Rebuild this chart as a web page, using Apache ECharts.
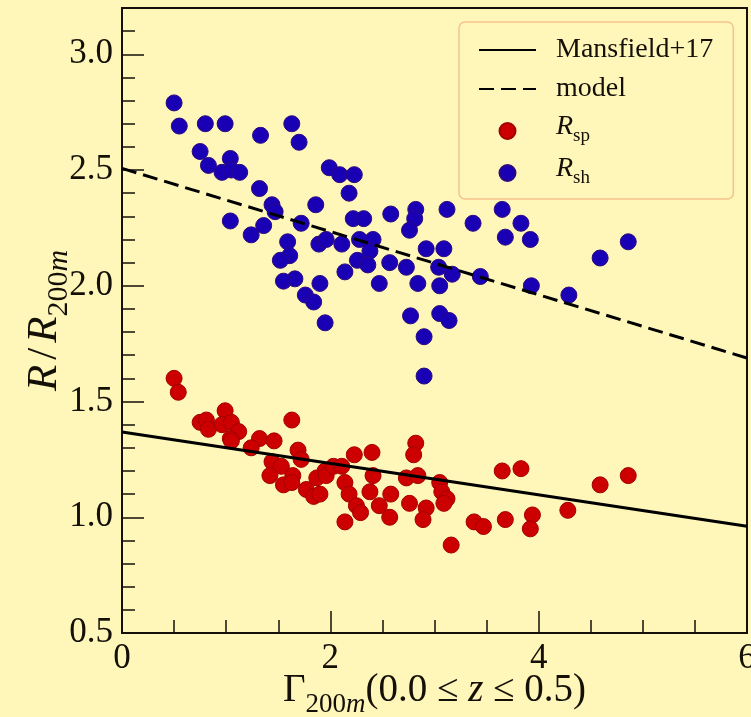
<!DOCTYPE html>
<html>
<head>
<meta charset="utf-8">
<script src="https://cdn.jsdelivr.net/npm/echarts@6/dist/echarts.min.js"></script>
<style>
  html, body { margin: 0; padding: 0; background: #fff6ba; }
  #chart { width: 751px; height: 717px; }
</style>
</head>
<body>
<div id="chart"></div>
<script>
// Axis ranges and labelled ticks
const gammaRange = [0, 6];
const radiusRange = [0.5, 3.2];
const gammaTickStep = 2;
const radiusTickStep = 0.5;
const radiusMinorStep = 0.1;

// Splashback radius R_sp / R_200m against accretion rate
const rspPoints = [
  [0.50, 1.60], [0.54, 1.54], [0.99, 1.46], [1.63, 1.42], [0.75, 1.41],
  [0.81, 1.42], [0.83, 1.38], [0.96, 1.40], [1.05, 1.41], [1.12, 1.37],
  [1.04, 1.34], [1.05, 1.33], [1.32, 1.34], [1.24, 1.30], [1.46, 1.33],
  [1.69, 1.29], [1.72, 1.25], [1.44, 1.24], [1.53, 1.22], [1.42, 1.18],
  [1.64, 1.18], [1.55, 1.14], [1.63, 1.15], [1.77, 1.12], [1.84, 1.09],
  [1.90, 1.10], [1.87, 1.17], [1.95, 1.20], [1.96, 1.18], [2.03, 1.22],
  [2.23, 1.27], [2.40, 1.28], [2.82, 1.32], [2.80, 1.27], [2.11, 1.22],
  [2.14, 1.15], [2.18, 1.10], [2.25, 1.05], [2.29, 1.02], [2.14, 0.98],
  [2.38, 1.11], [2.41, 1.18], [2.47, 1.05], [2.58, 1.10], [2.57, 1.00],
  [2.73, 1.17], [2.84, 1.18], [2.76, 1.06], [2.92, 1.04], [2.89, 0.99],
  [3.05, 1.15], [3.07, 1.11], [3.12, 1.08], [3.09, 1.06], [3.16, 0.88],
  [3.38, 0.98], [3.47, 0.96], [3.65, 1.20], [3.83, 1.21], [3.68, 0.99],
  [3.94, 1.01], [3.92, 0.95], [4.28, 1.03], [4.59, 1.14], [4.86, 1.18]
];

// Shock radius R_sh / R_200m against accretion rate
const rshPoints = [
  [0.50, 2.79], [0.55, 2.69], [0.80, 2.70], [0.99, 2.70], [1.63, 2.70],
  [1.33, 2.65], [1.70, 2.62], [0.75, 2.58], [0.83, 2.52], [1.04, 2.55],
  [0.96, 2.49], [1.05, 2.50], [1.13, 2.49], [1.32, 2.42], [1.44, 2.35],
  [1.47, 2.32], [1.72, 2.27], [1.04, 2.28], [1.36, 2.26], [1.24, 2.22],
  [1.59, 2.19], [1.61, 2.13], [1.52, 2.11], [1.66, 2.03], [1.55, 2.02],
  [1.76, 1.96], [1.99, 2.51], [2.09, 2.48], [2.23, 2.48], [2.18, 2.40],
  [1.86, 2.35], [2.22, 2.29], [2.32, 2.29], [2.58, 2.31], [2.82, 2.33],
  [2.81, 2.29], [2.76, 2.24], [3.12, 2.33], [3.37, 2.27], [1.89, 2.18],
  [1.96, 2.20], [2.11, 2.18], [2.28, 2.20], [2.41, 2.20], [2.38, 2.15],
  [2.26, 2.11], [2.36, 2.09], [2.57, 2.10], [2.14, 2.06], [2.73, 2.08],
  [2.92, 2.16], [3.09, 2.16], [3.04, 2.08], [3.17, 2.05], [2.47, 2.01],
  [2.84, 2.01], [3.05, 2.00], [1.90, 2.01], [1.84, 1.93], [1.95, 1.84],
  [2.77, 1.87], [3.05, 1.88], [3.14, 1.85], [2.90, 1.78], [2.90, 1.61],
  [3.44, 2.04], [3.65, 2.33], [3.83, 2.27], [3.68, 2.21], [3.92, 2.20],
  [4.86, 2.19], [4.59, 2.12], [3.93, 2.00], [4.29, 1.96]
];

// Fitted relations
const mansfieldLine = [[0, 1.368], [6, 0.961]];
const modelLine = [[0, 2.507], [6, 1.688]];

const serif = 'Liberation Serif';
const ink = '#141008';

const chart = echarts.init(document.getElementById('chart'), null, { renderer: 'canvas' });

const subRich = {
  n:  { fontFamily: serif, fontSize: 28, color: ink, verticalAlign: 'bottom', padding: [0, 0, 5, 0] },
  ni: { fontFamily: serif, fontSize: 28, color: ink, fontStyle: 'italic', verticalAlign: 'bottom', padding: [0, 0, 5, 0] },
  s:  { fontFamily: serif, fontSize: 19, color: ink, verticalAlign: 'bottom' }
};

function titleRich(size, subSize, drop, slashPad) {
  return {
    g:  { fontFamily: serif, fontSize: size, color: ink, verticalAlign: 'bottom', padding: [0, 0, drop, 0] },
    sl: { fontFamily: serif, fontSize: size, color: ink, verticalAlign: 'bottom', padding: [0, slashPad, drop, slashPad] },
    gi: { fontFamily: serif, fontSize: size, color: ink, fontStyle: 'italic', verticalAlign: 'bottom', padding: [0, 0, drop, 0] },
    s:  { fontFamily: serif, fontSize: subSize, color: ink, verticalAlign: 'bottom' },
    si: { fontFamily: serif, fontSize: subSize, color: ink, fontStyle: 'italic', verticalAlign: 'bottom' }
  };
}

const option = {
  backgroundColor: '#fff6ba',
  animation: false,
  grid: {
    left: 122, top: 8, width: 625, height: 625,
    outerBoundsMode: 'none',
    containLabel: false,
    show: true, borderColor: ink, borderWidth: 2, backgroundColor: 'transparent'
  },
  legend: {
    orient: 'vertical',
    left: 459, top: 22,
    padding: [13, 20, 11, 19],
    itemWidth: 57, itemHeight: 16,
    itemGap: 9,
    backgroundColor: '#fff6ba',
    borderColor: '#f5c38c', borderWidth: 1.5, borderRadius: 6,
    textStyle: { fontFamily: serif, fontSize: 28, color: ink, lineHeight: 30, padding: [0, 0, 0, 15], rich: subRich },
    data: [
      { name: 'Mansfield+17', itemStyle: { opacity: 0 } },
      { name: 'model', itemStyle: { opacity: 0 } },
      { name: 'R_sp', icon: 'circle' },
      { name: 'R_sh', icon: 'circle' }
    ],
    formatter: function (name) {
      if (name === 'R_sp') return '{ni|R}{s|sp}';
      if (name === 'R_sh') return '{ni|R}{s|sh}';
      return name;
    }
  },
  xAxis: {
    type: 'value',
    min: gammaRange[0], max: gammaRange[1], interval: gammaTickStep,
    name: '{g|Γ}{s|200}{si|m}{g|(0.0 ≤ }{gi|z}{g| ≤ 0.5)}',
    nameLocation: 'middle', nameGap: 38, nameMoveOverlap: false,
    nameTextStyle: { rich: titleRich(39, 27, 8, 0) },
    axisLine: { lineStyle: { color: ink, width: 2 } },
    axisTick: { inside: true, length: 22, lineStyle: { color: ink, width: 1.5 } },
    minorTick: { show: true, splitNumber: 4, length: 13, lineStyle: { color: ink, width: 1.5 } },
    axisLabel: { fontFamily: serif, fontSize: 35, color: ink, margin: 8 },
    splitLine: { show: false },
    minorSplitLine: { show: false }
  },
  yAxis: [
    {
      type: 'value',
      min: radiusRange[0], max: radiusRange[1], interval: radiusTickStep,
      name: '{gi|R}{sl|/}{gi|R}{s|200}{si|m}',
      nameLocation: 'middle', nameGap: 48, nameRotate: 90, nameMoveOverlap: false,
      nameTextStyle: { rich: titleRich(43, 30, 8, 5) },
      axisLine: { lineStyle: { color: ink, width: 2 } },
      axisTick: { inside: true, length: 22, lineStyle: { color: ink, width: 1.5 } },
      axisLabel: {
        fontFamily: serif, fontSize: 35, color: ink, margin: 9,
        showMaxLabel: false,
        formatter: function (v) { return v.toFixed(1); }
      },
      splitLine: { show: false }
    },
    {
      type: 'value',
      position: 'left',
      min: radiusRange[0], max: radiusRange[1], interval: radiusMinorStep,
      axisLine: { show: false },
      axisTick: { inside: true, length: 13, lineStyle: { color: ink, width: 1.5 } },
      axisLabel: { show: false },
      splitLine: { show: false }
    }
  ],
  series: [
    {
      name: 'R_sp', type: 'scatter', data: rspPoints,
      symbolSize: 16,
      itemStyle: { color: '#cc0000', borderColor: '#a30000', borderWidth: 1, opacity: 1 },
      z: 2
    },
    {
      name: 'R_sh', type: 'scatter', data: rshPoints,
      symbolSize: 16,
      itemStyle: { color: '#1a00b4', borderColor: '#2a0a80', borderWidth: 1, opacity: 1 },
      z: 2
    },
    {
      name: 'Mansfield+17', type: 'line', data: mansfieldLine,
      symbol: 'none', itemStyle: { color: '#000' },
      lineStyle: { color: '#000', width: 3 },
      z: 3
    },
    {
      name: 'model', type: 'line', data: modelLine,
      symbol: 'none', itemStyle: { color: '#000' },
      lineStyle: { color: '#000', width: 3, type: [15, 7] },
      z: 3
    }
  ]
};

chart.setOption(option);
</script>
</body>
</html>
